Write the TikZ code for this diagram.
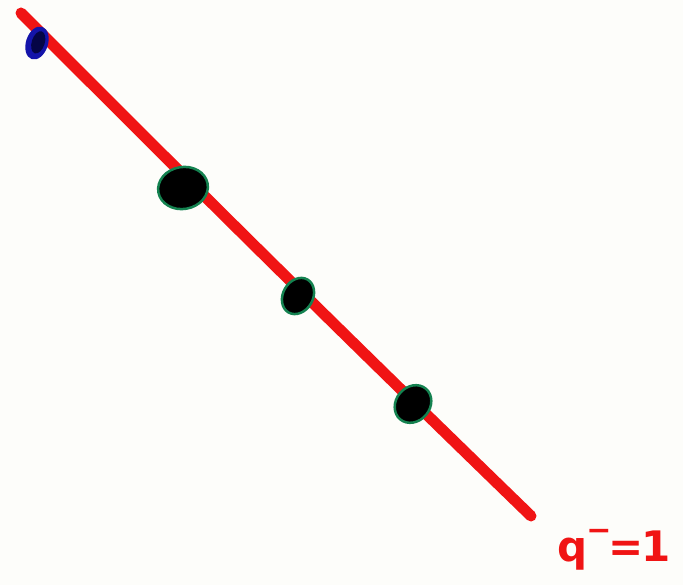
\documentclass[tikz,border=0pt]{standalone}
\usepackage{fontspec}
\setmainfont{DejaVu Sans}
\definecolor{penred}{RGB}{240,20,20}
\definecolor{penblue}{RGB}{20,20,170}
\definecolor{darkblue}{RGB}{5,5,70}
\definecolor{pengreen}{RGB}{20,130,80}
\definecolor{paper}{RGB}{253,253,250}
\begin{document}
\begin{tikzpicture}[x=1pt,y=-1pt,
  redline/.style={draw=penred,line width=11pt,line cap=round},
  dotmark/.style={fill=black,draw=pengreen,line width=2.5pt},
  lbl/.style={text=penred,font=\fontsize{42}{42}\selectfont\bfseries,inner sep=0pt}]
\fill[paper] (0,0) rectangle (683,585);
\useasboundingbox (0,0) rectangle (683,585);
\coordinate (s) at (21,13);
\coordinate (e) at (531,516);
\draw[redline] (s) .. controls (180,172) and (300,292) .. (e);
\fill[penblue,rotate around={-18:(37,43)}] (37,43) ellipse (11pt and 17pt);
\fill[darkblue,rotate around={-18:(37,43)}] (38,42) ellipse (6.5pt and 11.5pt);
\draw[dotmark,rotate around={10:(183,188)}] (183,188) ellipse (25pt and 21pt);
\draw[dotmark,rotate around={-30:(298,296)}] (298,296) ellipse (15pt and 19pt);
\draw[dotmark,rotate around={-40:(413,404)}] (413,404) ellipse (17pt and 20pt);
\node[lbl] (label) at (614,550) {q\kern-1pt\raisebox{0.5em}{\fontsize{30}{30}\selectfont −}\kern-3pt=\kern-2pt1};
\end{tikzpicture}
\end{document}
